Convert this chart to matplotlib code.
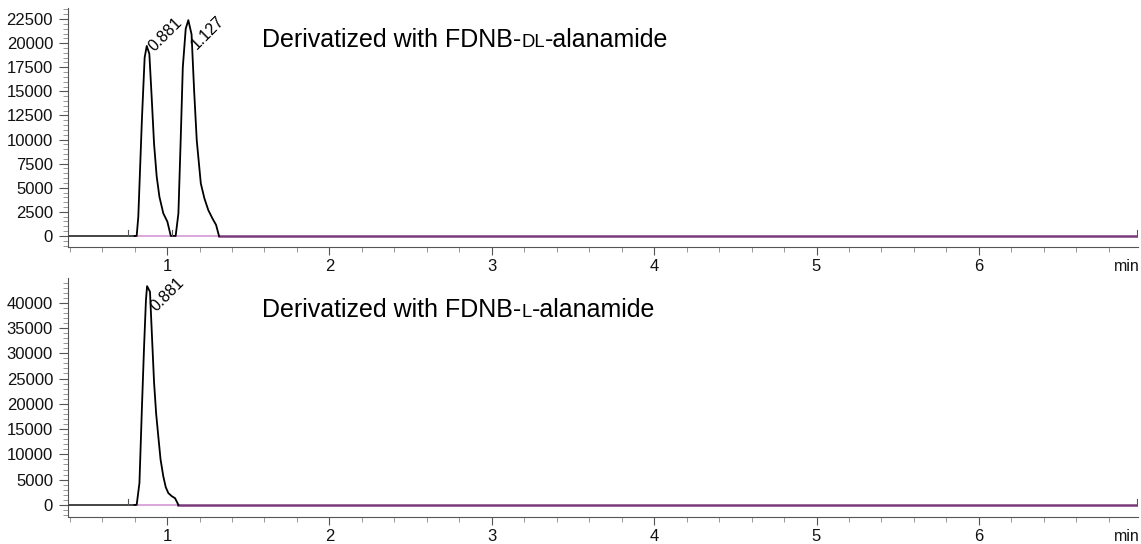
import matplotlib.pyplot as plt
from matplotlib.ticker import MultipleLocator

plt.rcParams['font.family'] = ['Liberation Sans', 'DejaVu Sans']

# retention time (min) / intensity
dl_time = [0.39, 0.80, 0.813, 0.823, 0.845, 0.862, 0.875, 0.891, 0.905, 0.920,
           0.936, 0.953, 0.977, 1.002, 1.023, 1.053, 1.070, 1.085, 1.097, 1.115,
           1.131, 1.151, 1.167, 1.183, 1.208, 1.230, 1.254, 1.280, 1.302, 1.320]
dl_signal = [0, 0, 0, 1990, 12000, 18500, 19710, 18900, 14500, 9560,
             6200, 4060, 2340, 1480, 0, 0, 2340, 10500, 17470, 21500,
             22390, 20920, 15000, 9910, 5440, 3900, 2680, 1800, 1140, 0]

l_time = [0.39, 0.80, 0.813, 0.830, 0.845, 0.858, 0.870, 0.877, 0.895, 0.907,
          0.920, 0.933, 0.946, 0.960, 0.977, 0.992, 1.008, 1.030, 1.049, 1.070]
l_signal = [0, 0, 0, 4320, 19000, 30880, 40500, 43290, 42170, 33500,
            24240, 18000, 13610, 9000, 5640, 3500, 2330, 1700, 1330, 0]

run_end = 6.98
# (retention time, apex height, label offset in pixels)
dl_peaks = [(0.881, 19710, (9, -8)), (1.127, 22390, (11, -32))]
l_peaks = [(0.881, 43290, (11, -28))]

dark = '#555555'
purple = '#7a3a7a'
pink = '#d9a0d9'
PT = 0.72  # points per pixel at 100 dpi

fig = plt.figure(figsize=(11.41, 5.44), dpi=100)
ax1 = fig.add_axes([68 / 1141, 1 - 247 / 544, 1070 / 1141, 239 / 544])
ax2 = fig.add_axes([68 / 1141, 1 - 517 / 544, 1070 / 1141, 239 / 544])


def draw_panel(ax, t, s, peaks, ymin, ymax, major, minor, base_end, marks):
    # baseline segments
    ax.plot([t[0], 0.80], [0, 0], color='#444444', lw=1.4, zorder=3)
    ax.plot([0.80, base_end], [0, 0], color=pink, lw=1.3, zorder=2)
    ax.plot([base_end, run_end], [0, 0], color=purple, lw=1.8, zorder=2)
    ax.plot(t[1:], s[1:], color='black', lw=1.3, zorder=4)
    for m in marks:
        ax.plot([m, m], [0, (ymax - ymin) * 0.025], color=dark, lw=0.8, zorder=5)
    for rt, h, (dx, dy) in peaks:
        ax.annotate(f'{rt:.3f}', xy=(rt, h), xytext=(dx * PT, dy * PT),
                    textcoords='offset points', rotation=45, fontsize=11.5,
                    ha='left', va='bottom', rotation_mode='anchor')
    ax.set_xlim(0.39, run_end)
    ax.set_ylim(ymin, ymax)
    for side in ['top', 'right']:
        ax.spines[side].set_visible(False)
    for side in ['left', 'bottom']:
        ax.spines[side].set_color(dark)
        ax.spines[side].set_linewidth(0.8)
    ax.xaxis.set_major_locator(MultipleLocator(1))
    ax.xaxis.set_minor_locator(MultipleLocator(0.2))
    ax.yaxis.set_major_locator(MultipleLocator(major))
    ax.yaxis.set_minor_locator(MultipleLocator(minor))
    ax.tick_params(axis='both', which='major', colors=dark, labelcolor='#111111',
                   labelsize=12, length=8 * PT, width=0.8)
    ax.tick_params(axis='both', which='minor', colors='#888888', length=5 * PT, width=0.6)
    ax.tick_params(axis='y', which='major', length=9 * PT, pad=6 * PT)
    ax.tick_params(axis='x', which='major', pad=4 * PT)
    ax.set_yticks([v for v in ax.get_yticks() if 0 <= v <= ymax])
    ax.set_xticks([1, 2, 3, 4, 5, 6])
    ax.annotate('min', xy=(1, 0), xycoords='axes fraction', xytext=(2 * PT, -24 * PT),
                textcoords='offset points', fontsize=11.5, ha='right', va='baseline',
                color='#111111')


draw_panel(ax1, dl_time, dl_signal, dl_peaks, -1150, 23650, 2500, 500, 1.32, [0.76, 1.03, 6.975])
draw_panel(ax2, l_time, l_signal, l_peaks, -2400, 44900, 5000, 1000, 1.07, [0.76, 6.975])

renderer = fig.canvas.get_renderer()


def small_caps_title(y_px, prefix, caps, suffix):
    x_px = 262
    big, small = 18, 13.3
    for txt, size in [(prefix, big), (caps, small), (suffix, big)]:
        t = fig.text(x_px / 1141, 1 - y_px / 544, txt, fontsize=size,
                     ha='left', va='baseline')
        x_px = t.get_window_extent(renderer).x1


small_caps_title(46.7, 'Derivatized with FDNB-', 'DL', '-alanamide')
small_caps_title(317, 'Derivatized with FDNB-', 'L', '-alanamide')

fig.savefig('out.png', dpi=100)
